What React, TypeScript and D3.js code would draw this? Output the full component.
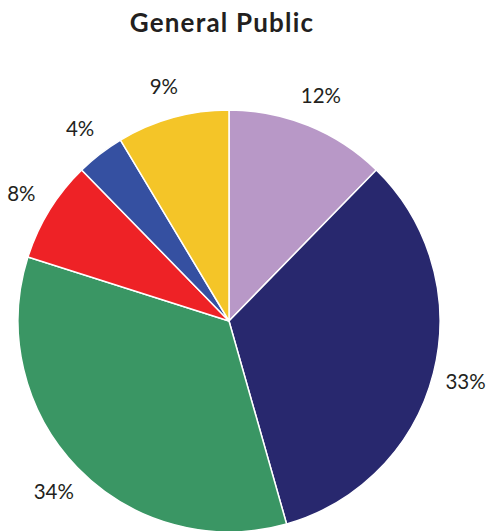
import React from "react";
import * as d3 from "d3";

const categories = ["A", "B", "C", "D", "E", "F"];
const values = [12.3, 33.3, 34.3, 7.8, 3.7, 8.6];
const labels = ["12%", "33%", "34%", "8%", "4%", "9%"];
const colors = ["#b898c7", "#28286e", "#3a9664", "#ee2226", "#3550a1", "#f4c528"];
const title = "General Public";

export default function App() {
  const W = 486, H = 531;
  const cx = 229, cy = 321, r = 211, lr = 244;
  const pie = d3.pie<number>().sort(null).value((d) => d)(values);
  const arc = d3.arc<d3.PieArcDatum<number>>().innerRadius(0).outerRadius(r);
  const labelArc = d3.arc<d3.PieArcDatum<number>>().innerRadius(lr).outerRadius(lr);
  return (
    <svg width={W} height={H} style={{ position: "absolute", left: 0, top: 0, background: "#fff" }}>
      <text x={222} y={32} textAnchor="middle" fontFamily="Lato, sans-serif" fontWeight={700} fontSize={26} letterSpacing={1.2} fill="#231f20">
        {title}
      </text>
      <g transform={`translate(${cx},${cy})`}>
        {pie.map((p, i) => (
          <path key={categories[i]} d={arc(p) || ""} fill={colors[i]} stroke="#fff" strokeWidth={1.5} />
        ))}
        {pie.map((p, i) => {
          const [x, y] = labelArc.centroid(p);
          return (
            <text key={"l" + i} x={x} y={y} textAnchor="middle" dominantBaseline="central"
              fontFamily="Lato, sans-serif" fontSize={20.5} fill="#231f20">
              {labels[i]}
            </text>
          );
        })}
      </g>
    </svg>
  );
}
